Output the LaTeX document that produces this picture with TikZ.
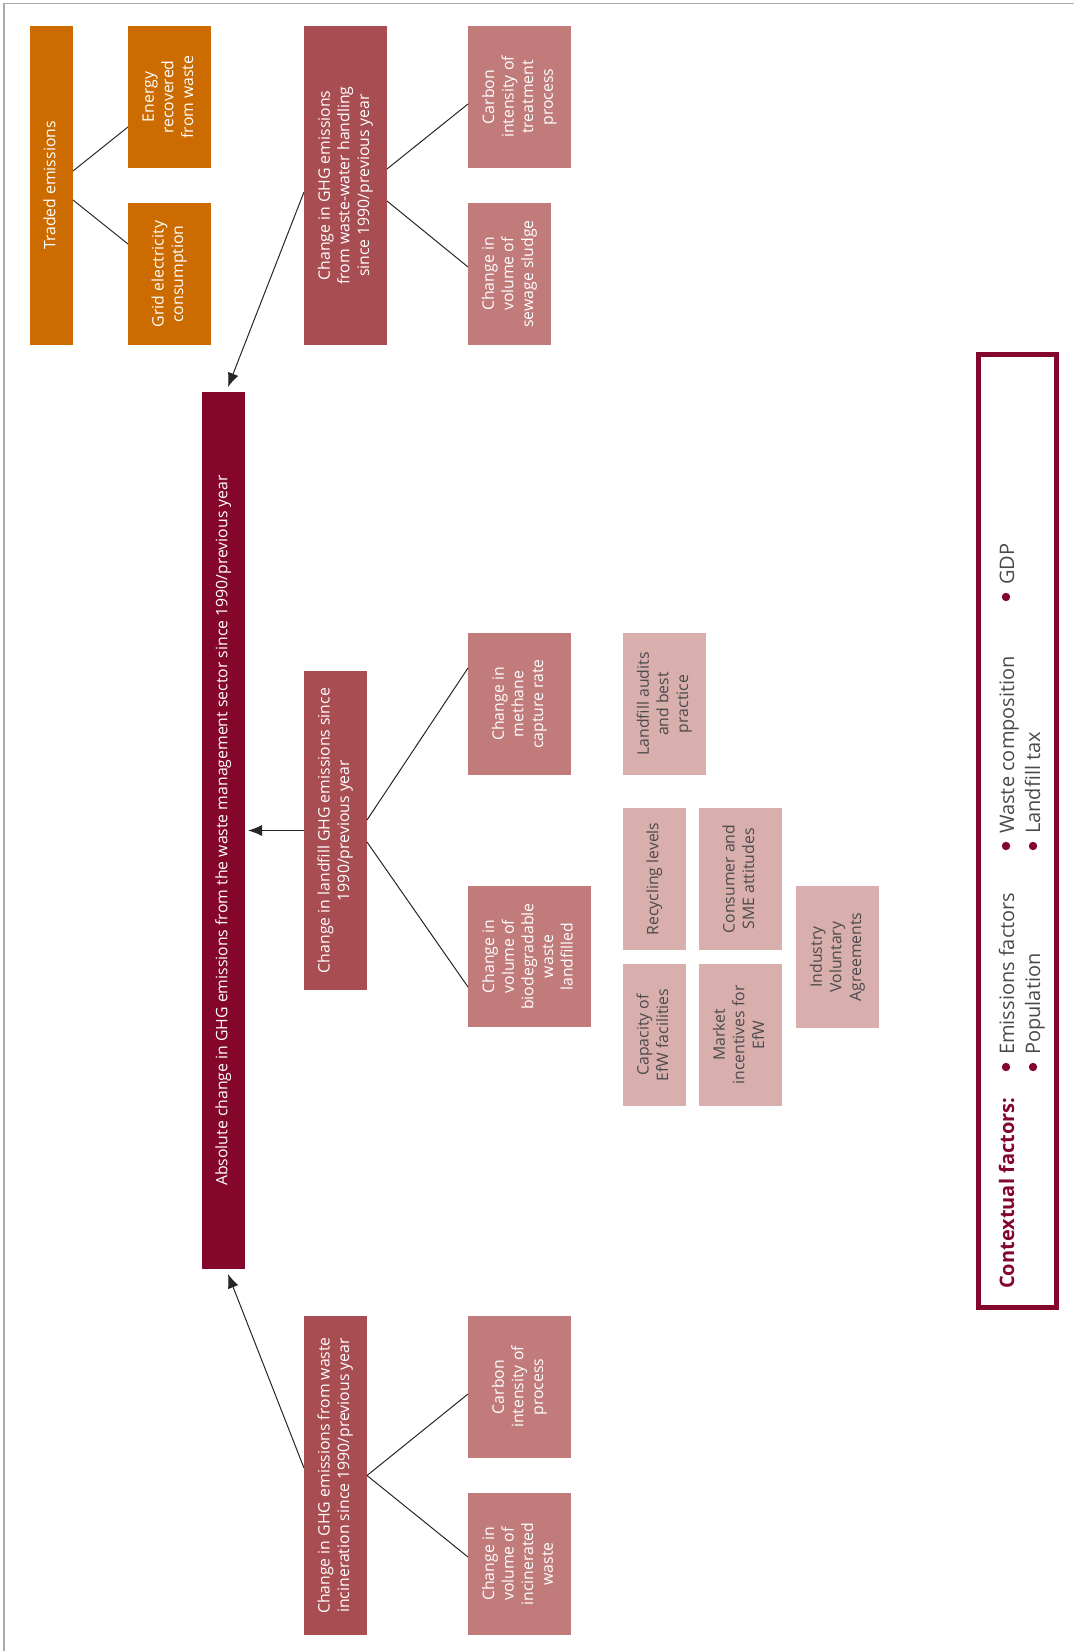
\documentclass[tikz,border=0pt]{standalone}
\usepackage{fontspec}
\setmainfont{Open Sans}
\usetikzlibrary{arrows.meta}
\definecolor{cOrange}{HTML}{CC6C00}
\definecolor{cMain}{HTML}{85062B}
\definecolor{cDark}{HTML}{A84D52}
\definecolor{cMid}{HTML}{C07B7A}
\definecolor{cLight}{HTML}{D9AFAD}
\definecolor{cCtx}{HTML}{83072D}
\definecolor{cFrame}{HTML}{AAAAAA}
\definecolor{cTxt}{HTML}{4A4A4A}
\newcommand\myrot[1]{\rotatebox{90}{\begin{tabular}{@{}c@{}}#1\end{tabular}}}
\begin{document}
\begin{tikzpicture}[x=1pt,y=-1pt,
  box/.style={draw=none, inner sep=0pt, outer sep=0pt, align=center,
    font=\fontsize{15.8}{19.6}\selectfont},
  orangebox/.style={box, fill=cOrange, text=white},
  mainbox/.style={box, fill=cMain, text=white},
  darkbox/.style={box, fill=cDark, text=white},
  midbox/.style={box, fill=cMid, text=white},
  lightbox/.style={box, fill=cLight, text=cTxt},
  ln/.style={line width=1pt, draw=black!85},
  arr/.style={ln, -{Latex[length=14pt,width=11pt]}},
  ctxtext/.style={rotate=90, anchor=base west, inner sep=0pt, text=cTxt,
    font=\fontsize{20}{24}\selectfont},
  bul/.style={fill=cCtx},
]
\useasboundingbox (0,0) rectangle (1074,1651);
% frame lines
\draw[cFrame, line width=1.2pt] (4,1651) -- (4,3.3) -- (1074,3.3);

% top group
\node[orangebox, minimum width=43pt, minimum height=319pt] (tr) at (51.5,185.5) {\myrot{Traded emissions}};
\node[orangebox, minimum width=83pt, minimum height=142pt] (en) at (169.5,97) {\myrot{Energy\\recovered\\from waste}};
\node[orangebox, minimum width=83pt, minimum height=142pt] (gr) at (169.5,274) {\myrot{Grid electricity\\consumption}};

\node[darkbox, minimum width=83pt, minimum height=319pt] (ww) at (345.5,185.5) {\myrot{Change in GHG emissions\\from waste-water handling\\since 1990/previous year}};
\node[midbox, minimum width=103pt, minimum height=142pt] (ct) at (519.5,97) {\myrot{Carbon\\intensity of\\treatment\\process}};
\node[midbox, minimum width=83pt, minimum height=142pt] (ss) at (509.5,274) {\myrot{Change in\\volume of\\sewage sludge}};

% main
\node[mainbox, minimum width=43pt, minimum height=877pt] (main) at (223.5,830.5) {\myrot{Absolute change in GHG emissions from the waste management sector since 1990/previous year}};

% landfill group
\node[darkbox, minimum width=63pt, minimum height=319pt] (lf) at (335.5,830.5) {\myrot{Change in landfill GHG emissions since\\1990/previous year}};
\node[midbox, minimum width=103pt, minimum height=142pt] (mc) at (519.5,704) {\myrot{Change in\\methane\\capture rate}};
\node[midbox, minimum width=123pt, minimum height=141pt] (bd) at (529.5,956.5) {\myrot{Change in\\volume of\\biodegradable\\waste\\landfilled}};

\node[lightbox, minimum width=83pt, minimum height=142pt] (la) at (664.5,704) {\myrot{Landfill audits\\and best\\practice}};
\node[lightbox, minimum width=63pt, minimum height=142pt] (rl) at (654.5,879) {\myrot{Recycling levels}};
\node[lightbox, minimum width=83pt, minimum height=142pt] (cs) at (740.5,879) {\myrot{Consumer and\\SME attitudes}};
\node[lightbox, minimum width=63pt, minimum height=142pt] (ce) at (654.5,1035) {\myrot{Capacity of\\EfW facilities}};
\node[lightbox, minimum width=83pt, minimum height=142pt] (mi) at (740.5,1035) {\myrot{Market\\incentives for\\EfW}};
\node[lightbox, minimum width=83pt, minimum height=142pt] (iv) at (837.5,957) {\myrot{Industry\\Voluntary\\Agreements}};

% incineration group
\node[darkbox, minimum width=63pt, minimum height=319pt] (inc) at (335.5,1475.5) {\myrot{Change in GHG emissions from waste\\incineration since 1990/previous year}};
\node[midbox, minimum width=103pt, minimum height=142pt] (cp) at (519.5,1387) {\myrot{Carbon\\intensity of\\process}};
\node[midbox, minimum width=103pt, minimum height=142pt] (vi) at (519.5,1564) {\myrot{Change in\\volume of\\incinerated\\waste}};

% connectors
\draw[ln] ([yshift=14.5pt]tr.east) -- ([yshift=-30pt]en.west);
\draw[ln] ([yshift=-14.5pt]tr.east) -- ([yshift=30pt]gr.west);
\draw[ln] ([yshift=16.5pt]ww.east) -- ([yshift=-7pt]ct.west);
\draw[ln] ([yshift=-15.5pt]ww.east) -- ([yshift=7pt]ss.west);
\draw[arr] ([yshift=-6.5pt]ww.west) -- ([xshift=4.5pt,yshift=5pt]main.north);

\draw[arr] (lf.west) -- ([xshift=3pt]main.east);
\draw[ln] ([yshift=10.5pt]lf.east) -- ([yshift=36pt]mc.west);
\draw[ln] ([yshift=-11.5pt]lf.east) -- ([yshift=-30.5pt]bd.west);

\draw[arr] ([yshift=7.5pt]inc.west) -- ([xshift=4.5pt,yshift=-5pt]main.south);
\draw[ln] (inc.east) -- ([yshift=-7pt]cp.west);
\draw[ln] (inc.east) -- ([yshift=7pt]vi.west);

% contextual factors
\node[draw=cCtx, line width=5pt, minimum width=78pt, minimum height=953pt, inner sep=0pt] (ctx) at (1017.5,830.5) {};
\node[ctxtext, text=cCtx, font=\fontsize{20}{24}\selectfont\bfseries] (cf) at (1014,1289) {Contextual factors:};
\fill[bul] (1006,1067) circle (4.2pt);
\fill[bul] (1033,1067) circle (4.2pt);
\fill[bul] (1006,846) circle (4.2pt);
\fill[bul] (1033,846) circle (4.2pt);
\fill[bul] (1006,597) circle (4.2pt);
\node[ctxtext] (f1) at (1014,1055) {Emissions factors};
\node[ctxtext] (f2) at (1040,1055) {Population};
\node[ctxtext] (f3) at (1014,834) {Waste composition};
\node[ctxtext] (f4) at (1040,834) {Landfill tax};
\node[ctxtext] (f5) at (1014,585) {GDP};
\end{tikzpicture}
\end{document}
